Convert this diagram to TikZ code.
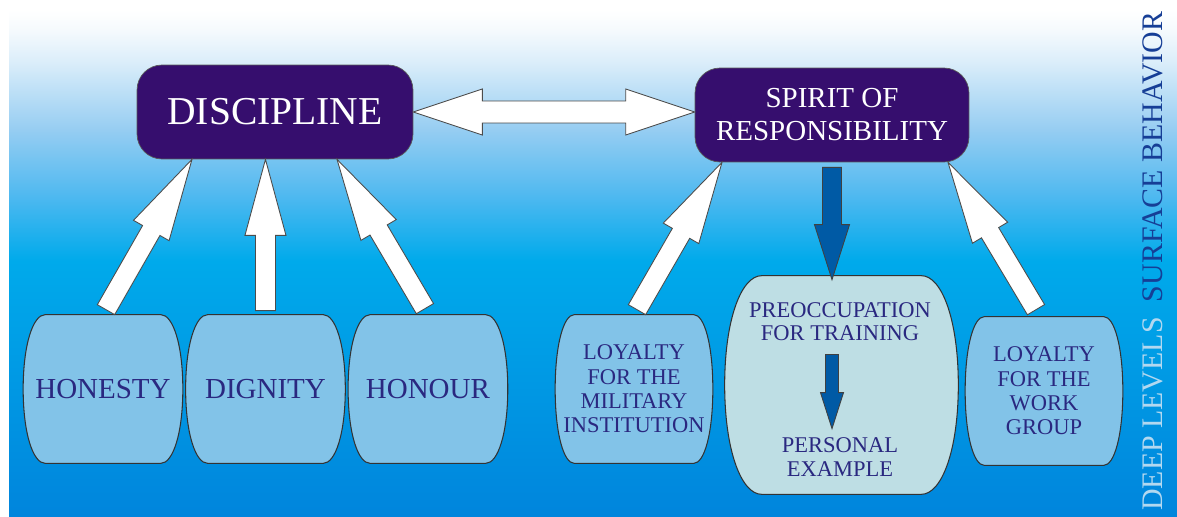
\documentclass[tikz,border=0pt]{standalone}
\usepackage{fontspec}
\setmainfont{Liberation Serif}
\usetikzlibrary{calc,positioning}
\definecolor{capfill}{RGB}{54,14,110}
\definecolor{valuefill}{RGB}{130,195,232}
\definecolor{prepfill}{RGB}{190,222,228}
\definecolor{inkblue}{RGB}{42,40,128}
\definecolor{arrowblue}{RGB}{0,90,165}
\definecolor{surfblue}{RGB}{22,62,150}
\definecolor{deeptint}{RGB}{178,216,240}
\definecolor{skyW}{RGB}{245,250,253}
\definecolor{skyA}{RGB}{220,238,250}
\definecolor{skyB}{RGB}{150,205,242}
\definecolor{skyC}{RGB}{80,185,240}
\definecolor{skyD}{RGB}{0,170,235}
\definecolor{skyE}{RGB}{0,133,220}
\pgfdeclareverticalshading{skyfade}{100bp}{color(0bp)=(skyE); color(25bp)=(skyE); color(50.3bp)=(skyD); color(56.8bp)=(skyC); color(63.2bp)=(skyB); color(70bp)=(skyA); color(73bp)=(skyW); color(75bp)=(white); color(100bp)=(white)}
\pgfdeclarelayer{back}
\pgfsetlayers{back,main}
\tikzstyle{topbox} = [rectangle, rounded corners=0.5cm, minimum width=5.52cm, minimum height=1.88cm, fill=capfill, draw=black!65, text=white, align=center]
\tikzstyle{valuebox} = [rectangle, inner sep=0pt, minimum width=3.18cm, minimum height=2.96cm, text=inkblue, align=center, font=\fontsize{16.5}{19}\selectfont]
\tikzstyle{loyalbox} = [valuebox, minimum width=3.14cm, font=\fontsize{12.8}{13.8}\selectfont]
\tikzstyle{smalltext} = [inner sep=0pt, text=inkblue, align=center, font=\fontsize{12.8}{13.2}\selectfont]
\tikzstyle{sidetext} = [rotate=90, inner sep=0pt, font=\fontsize{17}{17}\selectfont]
\tikzstyle{outline} = [draw=black!80, line width=0.6pt]
\tikzstyle{hollow} = [fill=white, draw=black!70, line width=0.5pt]
\tikzstyle{deeparrow} = [fill=arrowblue, draw=black!75, line width=0.5pt]
% fat arrow: style, tail, tip, shaft half width, head half width, head length
\newcommand{\blockarrow}[6]{%
  \coordinate (ba-neck) at ($(#3)!#6!(#2)$);
  \draw[#1] ($(#2)!#4!90:(#3)$) -- ($(ba-neck)!#4!90:(#3)$) -- ($(ba-neck)!#5!90:(#3)$)
    -- (#3) -- ($(ba-neck)!#5!-90:(#3)$) -- ($(ba-neck)!#4!-90:(#3)$)
    -- ($(#2)!#4!-90:(#3)$) -- cycle;}
\newcommand{\twinarrow}[6]{%
  \coordinate (tw-a) at ($(#2)!#6!(#3)$);
  \coordinate (tw-b) at ($(#3)!#6!(#2)$);
  \draw[#1] (#2) -- ($(tw-a)!#5!90:(#3)$) -- ($(tw-a)!#4!90:(#3)$) -- ($(tw-b)!#4!90:(#3)$)
    -- ($(tw-b)!#5!90:(#3)$) -- (#3) -- ($(tw-b)!#5!-90:(#3)$) -- ($(tw-b)!#4!-90:(#3)$)
    -- ($(tw-a)!#4!-90:(#3)$) -- ($(tw-a)!#5!-90:(#3)$) -- cycle;}
% barrel outline round a node: node, fill, inset of the flat top
\newcommand{\barrel}[3]{%
  \draw[outline, fill=#2] ($(#1.north west)+(#3,0)$) -- ($(#1.north east)+(-#3,0)$)
    .. controls ($(#1.north east)+(-0.45*#3,0)$) and ($(#1.north east)!0.2!(#1.south east)$) .. (#1.east)
    .. controls ($(#1.north east)!0.8!(#1.south east)$) and ($(#1.south east)+(-0.45*#3,0)$) .. ($(#1.south east)+(-#3,0)$)
    -- ($(#1.south west)+(#3,0)$)
    .. controls ($(#1.south west)+(0.45*#3,0)$) and ($(#1.north west)!0.8!(#1.south west)$) .. (#1.west)
    .. controls ($(#1.north west)!0.2!(#1.south west)$) and ($(#1.north west)+(0.45*#3,0)$) .. cycle;}

\begin{document}
\begin{tikzpicture}[x=0.02cm, y=-0.02cm, node distance=3.25cm]
\useasboundingbox (0,0) rectangle (1177,517);
\node (disc) [topbox, font=\fontsize{22.5}{24}\selectfont] at (275,112) {DISCIPLINE};
\node (spirit) [topbox, minimum width=5.48cm, font=\fontsize{16.5}{18.8}\selectfont] at (832,115) {SPIRIT OF\\RESPONSIBILITY};
\node (honesty) [valuebox] at (103,389) {HONESTY};
\node (dignity) [valuebox, right of=honesty] {DIGNITY};
\node (honour) [valuebox, right of=dignity] {HONOUR};
\node (loyal1) [loyalbox] at (634,389) {LOYALTY\\FOR THE\\MILITARY\\INSTITUTION};
\node (prep) [valuebox, minimum width=4.66cm, minimum height=4.36cm] at (841.5,385) {};
\node (train) [smalltext] at (840,322) {PREOCCUPATION\\FOR TRAINING};
\node (example) [smalltext] at (840,457) {PERSONAL\\EXAMPLE};
\node (loyal2) [loyalbox] at (1044,391) {LOYALTY\\FOR THE\\WORK\\GROUP};
\node (surface) [sidetext, text=surfblue] at (1153,157) {SURFACE BEHAVIOR};
\node (deep) [sidetext, text=deeptint] at (1153,414) {DEEP LEVELS};

\begin{pgfonlayer}{back}
\fill[shading=skyfade] (9,10) rectangle (1177,517);
\barrel{honesty}{valuefill}{22}
\barrel{dignity}{valuefill}{22}
\barrel{honour}{valuefill}{22}
\barrel{loyal1}{valuefill}{19}
\barrel{loyal2}{valuefill}{19}
\barrel{prep}{prepfill}{37}
\end{pgfonlayer}

% arrow ends
\coordinate (t1) at ($(honesty.north)+(3,-5)$);
\coordinate (h1) at ($(disc.south)+(-83,0)$);
\coordinate (t2) at ($(dignity.north)+(0,-4)$);
\coordinate (h2) at (disc.south -| dignity.north);
\coordinate (t3) at ($(honour.north)+(-3,-6)$);
\coordinate (h3) at ($(disc.south)+(62,0)$);
\coordinate (t4) at ($(loyal1.north)+(3,-5)$);
\coordinate (h4) at ($(spirit.south)+(-110,0)$);
\coordinate (t5) at ($(loyal2.north)+(-8,-7)$);
\coordinate (h5) at ($(spirit.south)+(116,0)$);
\coordinate (t6) at ($(spirit.south)+(0,5)$);
\coordinate (h6) at ($(spirit.south |- prep.north)+(0,4)$);
\coordinate (t7) at ($(train.south)+(-8,13)$);
\coordinate (h7) at ($(example.north)+(-8,-9)$);
\coordinate (h8) at (disc.east -| spirit.west);

\blockarrow{hollow}{t1}{h1}{0.2cm}{0.41cm}{1.64cm}
\blockarrow{hollow}{t2}{h2}{0.2cm}{0.41cm}{1.52cm}
\blockarrow{hollow}{t3}{h3}{0.2cm}{0.41cm}{1.64cm}
\blockarrow{hollow}{t4}{h4}{0.2cm}{0.41cm}{1.64cm}
\blockarrow{hollow}{t5}{h5}{0.2cm}{0.41cm}{1.64cm}
\blockarrow{deeparrow}{t6}{h6}{0.19cm}{0.35cm}{1.1cm}
\blockarrow{deeparrow}{t7}{h7}{0.13cm}{0.23cm}{0.72cm}
\twinarrow{hollow}{disc.east}{h8}{0.22cm}{0.46cm}{1.38cm}
\end{tikzpicture}
\end{document}
